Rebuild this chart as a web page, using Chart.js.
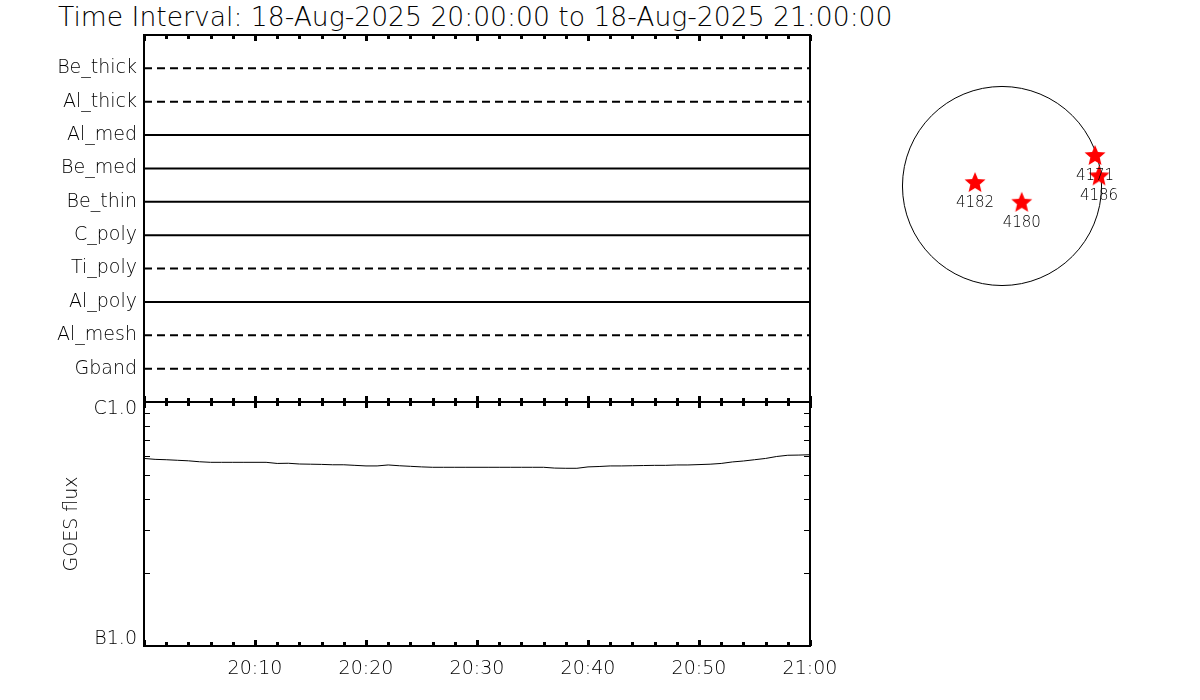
<!DOCTYPE html>
<html>
<head>
<meta charset="utf-8">
<script src="https://cdn.jsdelivr.net/npm/chart.js@4.4.1/dist/chart.umd.min.js"></script>
<style>
  body { margin: 0; background: #fff; }
  #wrap { position: relative; width: 1200px; height: 700px; overflow: hidden; background: #fff; }
  canvas { position: absolute; }
  #title { position: absolute; left: 58px; top: 1px; font: 200 26.6px 'DejaVu Sans'; white-space: nowrap; color: #000; }
</style>
</head>
<body>
<div id="wrap">
  <div id="title">Time Interval: 18-Aug-2025 20:00:00 to 18-Aug-2025 21:00:00</div>
  <canvas id="filters" width="860" height="430" style="left:0;top:0"></canvas>
  <canvas id="goes" width="860" height="330" style="left:0;top:370px"></canvas>
  <canvas id="disk" width="262" height="262" style="left:871px;top:55px"></canvas>
</div>
<script>
// time axis: minutes after 20:00
const startHour = 20;
const intervalStart = 0;
const intervalEnd = 60;

// filter wheel timeline, top to bottom
const filters = ['Be_thick', 'Al_thick', 'Al_med', 'Be_med', 'Be_thin', 'C_poly', 'Ti_poly', 'Al_poly', 'Al_mesh', 'Gband'];
const filterUsed = [false, false, true, true, true, true, false, true, false, false];

// GOES 1-8 A flux, one sample per minute (units of 1e-7 W/m^2)
const goesMinutes = [0, 1, 2, 3, 4, 5, 6, 7, 8, 9, 10, 11, 12, 13, 14, 15, 16, 17, 18, 19, 20,
  21, 22, 23, 24, 25, 26, 27, 28, 29, 30, 31, 32, 33, 34, 35, 36, 37, 38, 39, 40,
  41, 42, 43, 44, 45, 46, 47, 48, 49, 50, 51, 52, 53, 54, 55, 56, 57, 58, 59, 60];
const goesFlux = [5.87, 5.82, 5.80, 5.77, 5.74, 5.69, 5.66, 5.66, 5.66, 5.66, 5.66,
  5.66, 5.60, 5.61, 5.57, 5.56, 5.55, 5.53, 5.53, 5.50, 5.47,
  5.47, 5.52, 5.48, 5.45, 5.42, 5.40, 5.40, 5.40, 5.40, 5.40,
  5.40, 5.40, 5.40, 5.40, 5.40, 5.40, 5.36, 5.35, 5.35, 5.42,
  5.44, 5.47, 5.47, 5.48, 5.49, 5.50, 5.50, 5.52, 5.52, 5.54,
  5.56, 5.60, 5.68, 5.73, 5.80, 5.87, 5.98, 6.05, 6.06, 6.08];
const goesTicks = [1, 2, 3, 4, 5, 6, 7, 8, 9, 10]; // x 1e-7
// class labels, nudged inside the panel like the original plot
const goesClasses = { 1: ['B1.0', ''], 10: ['', 'C1.0'] };

// active regions on the disk (arcsec from disk centre)
const solarRadius = 948;
const arNumbers = ['4182', '4180', '4171', '4186'];
const arX = [-257, 188, 886, 924];
const arY = [28, -160, 286, 92];

const FONT = 'DejaVu Sans';
Chart.defaults.font.family = FONT;
Chart.defaults.color = '#000';
Chart.defaults.animation = false;
Chart.defaults.events = [];
Chart.defaults.plugins.legend.display = false;
Chart.defaults.plugins.tooltip.enabled = false;

const labelFont = { family: FONT, size: 19, weight: 200 };

const timeLabel = v => {
    if (v % 10 !== 0 || v === 0) return '';
    const h = startHour + Math.floor(v / 60);
    const m = v % 60;
    return h + ':' + String(m).padStart(2, '0');
};

// frame and inward tick marks, like the IDL plot
const frameTicks = {
    id: 'frameTicks',
    afterDraw(chart, args, opts) {
        const { ctx, chartArea: a, scales } = chart;
        ctx.save();
        ctx.strokeStyle = '#000';
        ctx.lineWidth = 3;
        scales.x.ticks.forEach(t => {
            const px = Math.round(scales.x.getPixelForValue(t.value)) + 0.5;
            const len = t.value % 10 === 0 ? 6 : 4;
            ctx.beginPath();
            ctx.moveTo(px, a.top); ctx.lineTo(px, a.top + len);
            ctx.moveTo(px, a.bottom); ctx.lineTo(px, a.bottom - len);
            ctx.stroke();
        });
        if (opts.yTicks) {
            ctx.lineWidth = 1;
            scales.y.ticks.forEach(t => {
                const py = Math.round(scales.y.getPixelForValue(t.value)) + 0.5;
                ctx.beginPath();
                ctx.moveTo(a.left, py); ctx.lineTo(a.left + 6, py);
                ctx.moveTo(a.right, py); ctx.lineTo(a.right - 6, py);
                ctx.stroke();
            });
        }
        ctx.lineWidth = 2;
        ctx.strokeRect(a.left, a.top, a.width, a.height);
        ctx.restore();
    }
};

const timeAxis = (showLabels) => ({
    type: 'linear',
    min: intervalStart,
    max: intervalEnd,
    grid: { display: false, drawTicks: false },
    border: { display: false },
    ticks: {
        display: showLabels,
        stepSize: 2,
        autoSkip: false,
        maxRotation: 0,
        padding: 12,
        font: labelFont,
        callback: timeLabel
    },
    afterFit: s => { s.height = showLabels ? 54 : 0; }
});

// top panel: filter timeline
new Chart('filters', {
    type: 'line',
    data: {
        datasets: filters.map((f, i) => ({
            label: f,
            data: [{ x: intervalStart, y: f }, { x: intervalEnd, y: f }],
            borderColor: '#000',
            borderWidth: 2,
            borderDash: filterUsed[i] ? [] : [8, 5],
            pointRadius: 0
        }))
    },
    options: {
        responsive: false,
        layout: { padding: { top: 35, bottom: 28, right: 50, left: 0 } },
        scales: {
            x: timeAxis(false),
            y: {
                type: 'category',
                labels: ['', ...filters, ''],
                offset: false,
                grid: { display: false, drawTicks: false },
                border: { display: false },
                ticks: { padding: 7, font: labelFont, autoSkip: false },
                afterFit: s => { s.width = 144; }
            }
        },
        plugins: { frameTicks: {} }
    },
    plugins: [frameTicks]
});

// bottom panel: GOES flux
new Chart('goes', {
    type: 'line',
    data: {
        datasets: [{
            label: 'GOES flux',
            data: goesMinutes.map((m, i) => ({ x: m, y: goesFlux[i] * 1e-7 })),
            borderColor: '#000',
            borderWidth: 1,
            pointRadius: 0,
            tension: 0
        }]
    },
    options: {
        responsive: false,
        layout: { padding: { top: 32, bottom: 0, right: 50, left: 0 } },
        scales: {
            x: timeAxis(true),
            y: {
                type: 'logarithmic',
                min: 1e-7,
                max: 1e-6,
                grid: { display: false, drawTicks: false },
                border: { display: false },
                afterBuildTicks: s => { s.ticks = goesTicks.map(k => ({ value: k * 1e-7 })); },
                ticks: {
                    padding: 7,
                    font: { family: FONT, size: 19, weight: 200, lineHeight: '14px' },
                    autoSkip: false,
                    callback: v => goesClasses[Math.round(v * 1e7)] || ''
                },
                title: { display: true, text: 'GOES flux', font: labelFont, padding: { top: 61 } },
                afterFit: s => { s.width = 144; }
            }
        },
        plugins: { frameTicks: { yTicks: true } }
    },
    plugins: [frameTicks]
});

// solar disk with active regions
function makeStar(r) {
    const c = document.createElement('canvas');
    c.width = c.height = 2 * r + 2;
    const g = c.getContext('2d');
    g.fillStyle = '#ff0000';
    g.beginPath();
    for (let i = 0; i < 10; i++) {
        const rad = i % 2 ? r * 0.45 : r;
        const ang = -Math.PI / 2 + i * Math.PI / 5;
        g.lineTo(r + 1 + rad * Math.cos(ang), r + 1 + rad * Math.sin(ang));
    }
    g.closePath();
    g.fill();
    return c;
}

const diskPlugin = {
    id: 'diskPlugin',
    beforeDatasetsDraw(chart) {
        const { ctx, scales: { x, y } } = chart;
        const cx = x.getPixelForValue(0), cy = y.getPixelForValue(0);
        const r = x.getPixelForValue(solarRadius) - cx;
        ctx.save();
        ctx.strokeStyle = '#000';
        ctx.lineWidth = 1;
        ctx.beginPath();
        ctx.arc(cx, cy, r, 0, Math.PI * 2);
        ctx.stroke();
        ctx.restore();
    },
    afterDatasetsDraw(chart) {
        const { ctx } = chart;
        const meta = chart.getDatasetMeta(0);
        ctx.save();
        ctx.fillStyle = '#000';
        ctx.font = '200 15px ' + FONT;
        ctx.textAlign = 'center';
        ctx.textBaseline = 'middle';
        meta.data.forEach((el, i) => ctx.fillText(arNumbers[i], el.x, el.y + 20));
        ctx.restore();
    }
};

new Chart('disk', {
    type: 'scatter',
    data: {
        datasets: [{
            label: 'AR',
            data: arX.map((v, i) => ({ x: v, y: arY[i] })),
            pointStyle: makeStar(11),
            clip: false
        }]
    },
    options: {
        responsive: false,
        layout: { padding: 0 },
        scales: {
            x: { type: 'linear', min: -1200, max: 1200, display: false },
            y: { type: 'linear', min: -1200, max: 1200, display: false }
        }
    },
    plugins: [diskPlugin]
});
</script>
</body>
</html>
